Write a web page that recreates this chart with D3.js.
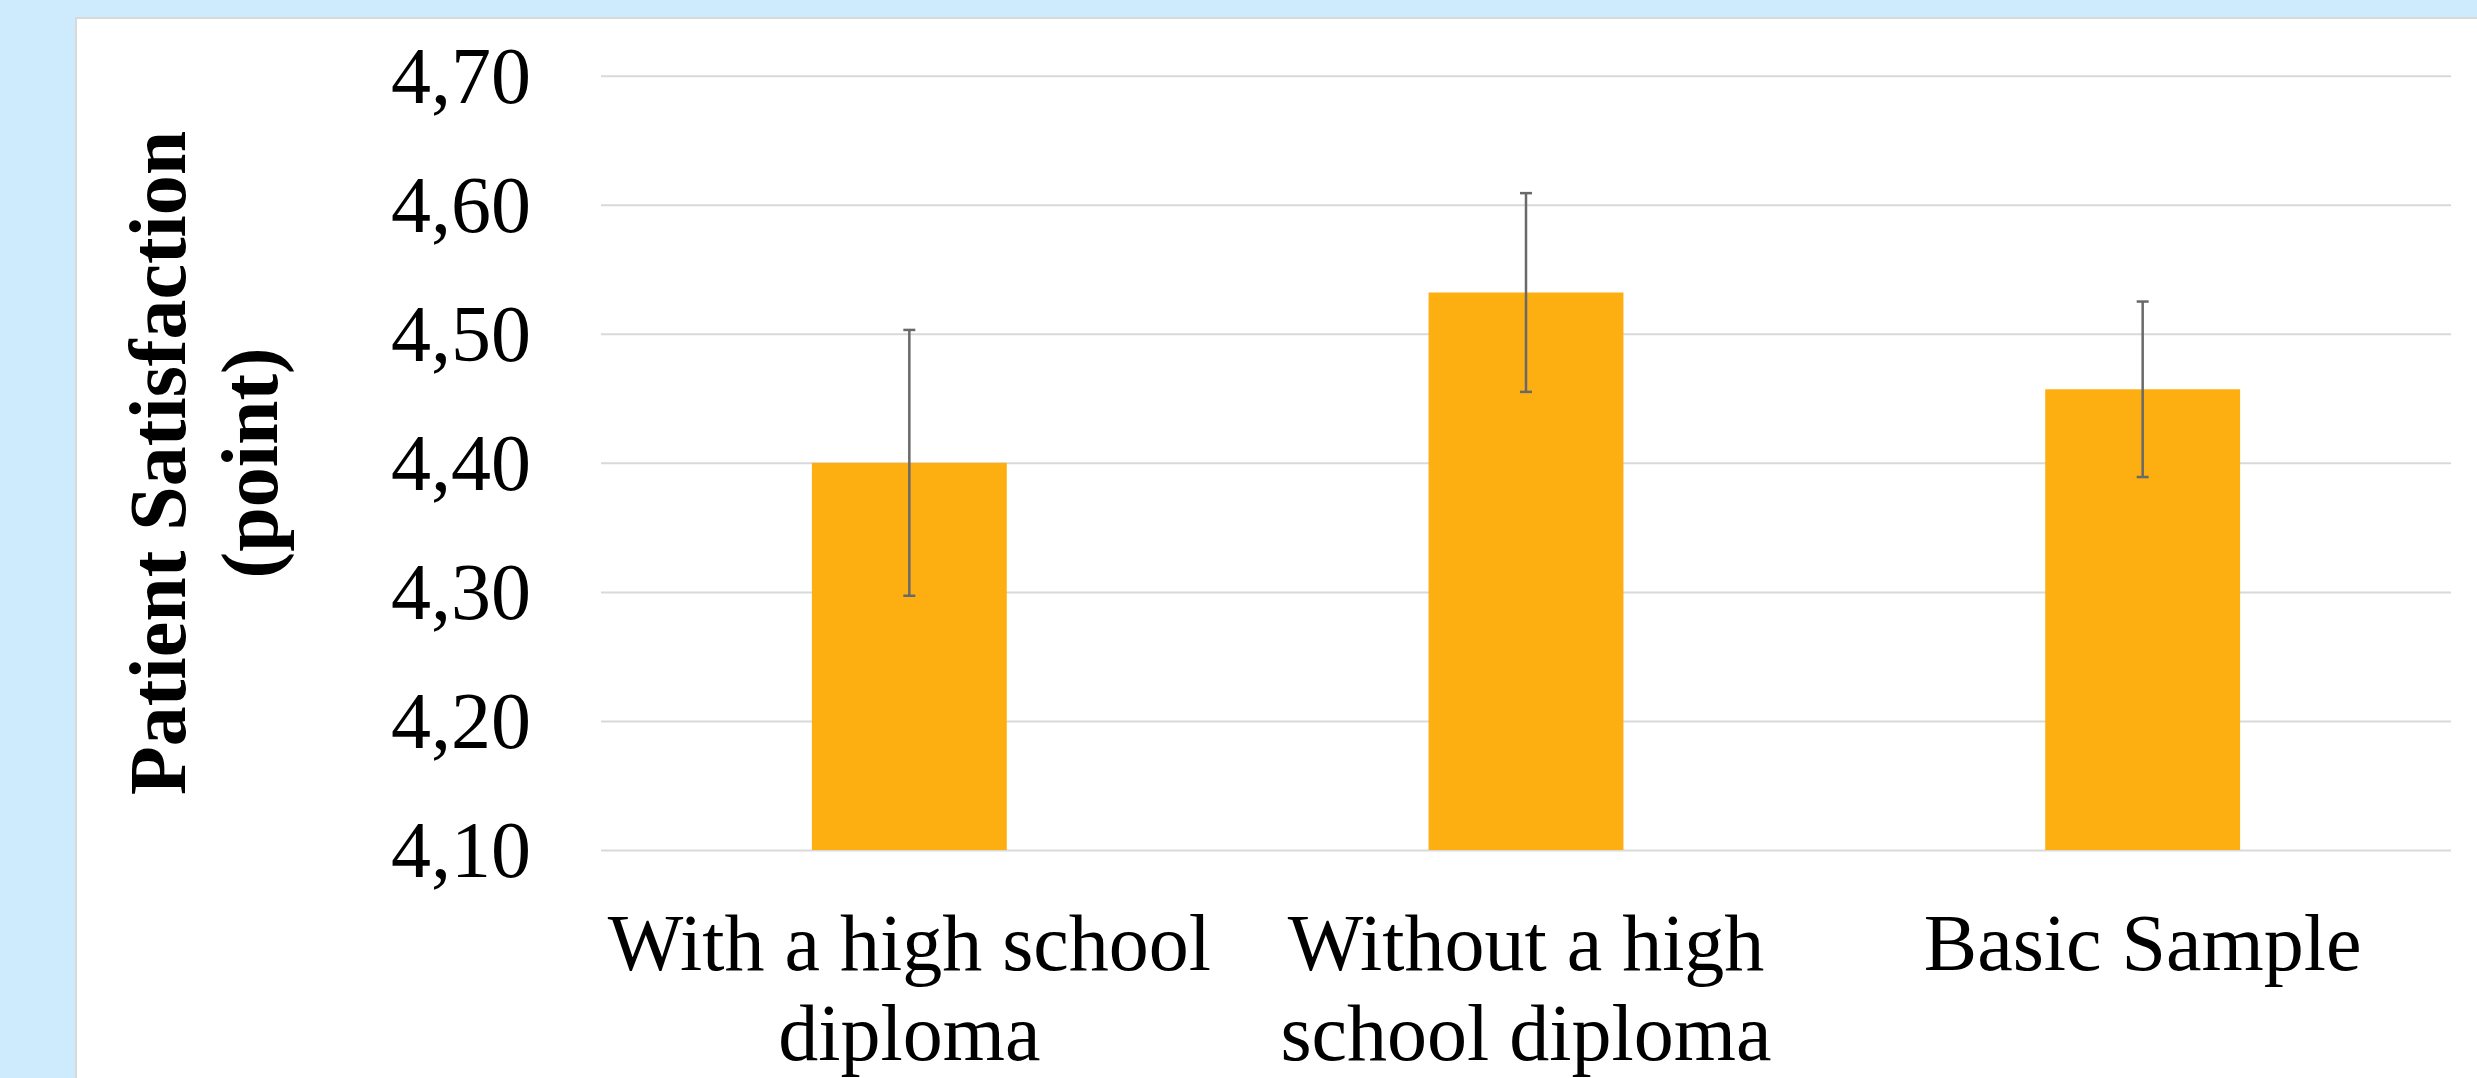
<!DOCTYPE html>
<html>
<head>
<meta charset="utf-8">
<script src="https://cdn.jsdelivr.net/npm/d3@7"></script>
<style>
  html, body { margin: 0; padding: 0; background: #cdebfd; }
  svg { display: block; }
  text { font-family: "Liberation Serif", "Times New Roman", serif; fill: #000; }
</style>
</head>
<body>
<svg id="chart" width="2477" height="1078"></svg>
<script>
// ---- data ----
const categories = ["With a high school diploma", "Without a high school diploma", "Basic Sample"];
const categoryLines = [["With a high school", "diploma"], ["Without a high", "school diploma"], ["Basic Sample"]];
const means = [4.400, 4.532, 4.457];
const errors = [0.103, 0.077, 0.068];
const yTicks = [4.10, 4.20, 4.30, 4.40, 4.50, 4.60, 4.70];
const yTitleLines = ["Patient Satisfaction", "(point)"];

// ---- layout ----
const W = 2477, H = 1078;
const plot = { left: 601, right: 2451, top: 75.7, bottom: 850 };
const svg = d3.select("#chart");

// white panel
svg.append("rect")
  .attr("x", 76).attr("y", 18)
  .attr("width", W).attr("height", H)
  .attr("fill", "#ffffff")
  .attr("stroke", "#d9d9d9").attr("stroke-width", 2);

const x = d3.scaleBand()
  .domain(categories)
  .range([plot.left, plot.right])
  .paddingInner(0.684)
  .paddingOuter(0.342);

const y = d3.scaleLinear()
  .domain([4.10, 4.70])
  .range([plot.bottom, plot.top]);

const fmt = v => d3.format(".2f")(v).replace(".", ",");

// gridlines via axis
const grid = svg.append("g")
  .attr("transform", `translate(${plot.left},0)`)
  .call(d3.axisRight(y).tickValues(yTicks).tickSize(plot.right - plot.left).tickFormat(""));
grid.select(".domain").remove();
grid.selectAll(".tick line").attr("stroke", "#d9d9d9").attr("stroke-width", 2);

// y tick labels via axis
const yAxis = svg.append("g")
  .attr("transform", `translate(531,0)`)
  .call(d3.axisLeft(y).tickValues(yTicks).tickSize(0).tickPadding(0).tickFormat(fmt));
yAxis.select(".domain").remove();
yAxis.selectAll(".tick text")
  .attr("font-size", 80)
  .attr("font-family", "'Liberation Serif', 'Times New Roman', serif")
  .attr("fill", "#000")
  .attr("dy", "0.33em");

// bars
const data = categories.map((c, i) => ({ c, v: means[i], e: errors[i] }));
svg.append("g").selectAll("rect")
  .data(data).join("rect")
  .attr("x", d => x(d.c))
  .attr("y", d => y(d.v))
  .attr("width", x.bandwidth())
  .attr("height", d => y(4.10) - y(d.v))
  .attr("fill", "#fdae10");

// error bars
const eb = svg.append("g").selectAll("g").data(data).join("g")
  .attr("transform", d => `translate(${x(d.c) + x.bandwidth() / 2},0)`)
  .attr("stroke", "#696969").attr("stroke-width", 2.5);
eb.append("line").attr("y1", d => y(d.v + d.e)).attr("y2", d => y(d.v - d.e));
eb.append("line").attr("x1", -6).attr("x2", 6).attr("y1", d => y(d.v + d.e)).attr("y2", d => y(d.v + d.e));
eb.append("line").attr("x1", -6).attr("x2", 6).attr("y1", d => y(d.v - d.e)).attr("y2", d => y(d.v - d.e));

// x labels
const xl = svg.append("g").selectAll("text").data(data).join("text")
  .attr("x", d => x(d.c) + x.bandwidth() / 2)
  .attr("y", 970)
  .attr("text-anchor", "middle")
  .attr("font-size", 80);
xl.selectAll("tspan").data((d, i) => categoryLines[i]).join("tspan")
  .attr("x", function () { return d3.select(this.parentNode).attr("x"); })
  .attr("dy", (d, j) => j === 0 ? 0 : 90)
  .text(d => d);

// y title
const yt = svg.append("text")
  .attr("transform", `translate(185,${(plot.top + plot.bottom) / 2}) rotate(-90)`)
  .attr("text-anchor", "middle")
  .attr("font-size", 80)
  .attr("font-weight", "bold");
yt.selectAll("tspan").data(yTitleLines).join("tspan")
  .attr("x", 0)
  .attr("dy", (d, j) => j === 0 ? 0 : 92)
  .text(d => d);
</script>
</body>
</html>
